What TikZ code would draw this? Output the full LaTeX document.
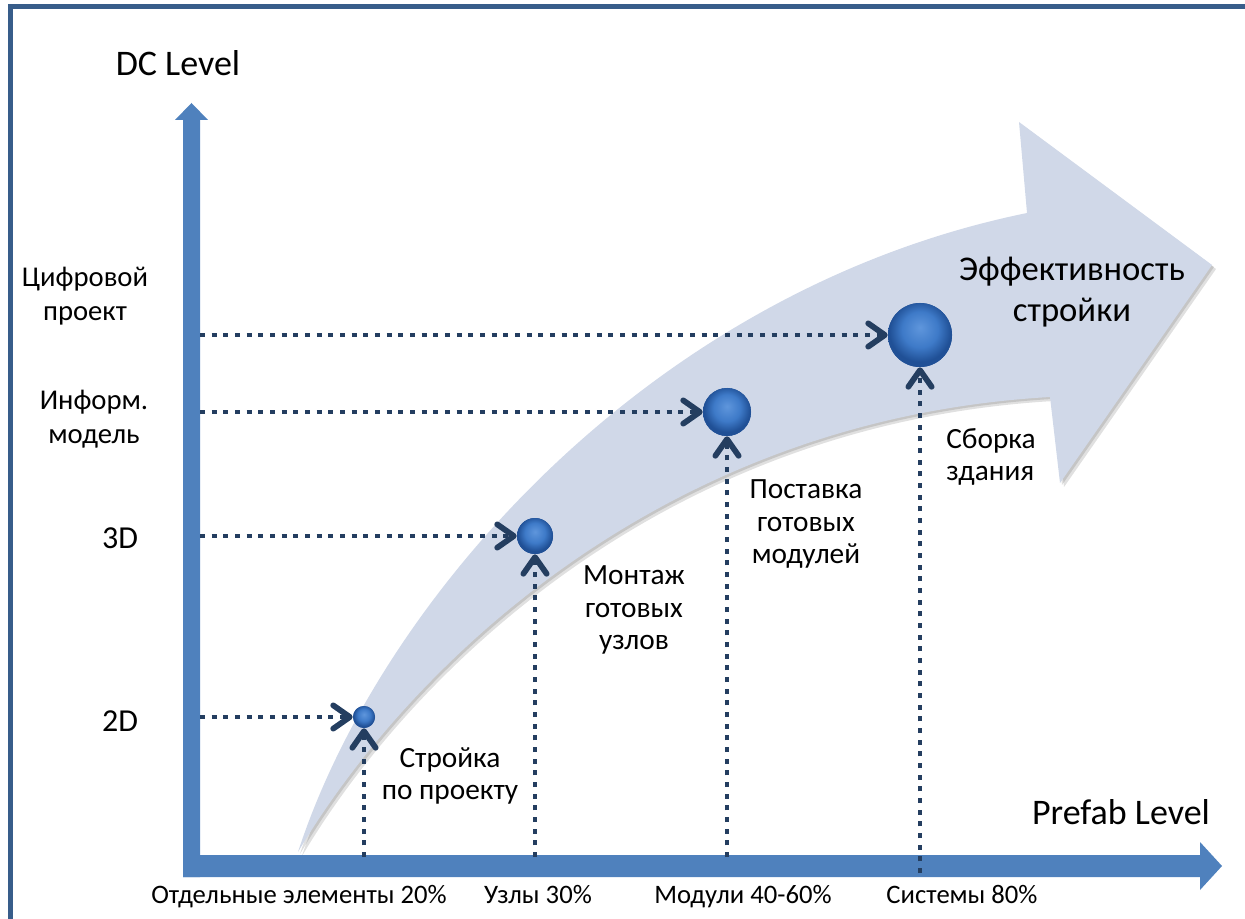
\documentclass[tikz,border=0pt]{standalone}
\usepackage{fontspec}
\setmainfont{Carlito}
\usetikzlibrary{arrows.meta}

\definecolor{axisblue}{RGB}{79,129,189}
\definecolor{frameblue}{RGB}{56,93,138}
\definecolor{bandfill}{RGB}{208,216,232}
\definecolor{dotnavy}{RGB}{36,62,96}
\definecolor{ballhi}{RGB}{95,150,220}
\definecolor{ballin}{RGB}{62,122,200}
\definecolor{ballout}{RGB}{32,80,150}

% glossy blue sphere, brighter towards the top
\pgfdeclareradialshading{sphereblue}{\pgfpoint{0bp}{6bp}}{%
  color(0bp)=(ballhi); color(14bp)=(ballin); color(24bp)=(ballout); color(50bp)=(ballout)}

\tikzset{
  framestyle/.style={draw=frameblue, line width=3.75pt},
  axisbar/.style={fill=axisblue, draw=none},
  conn/.style={draw=dotnavy, line width=3.7pt, dash pattern=on 3.75pt off 5pt,
    -{Straight Barb[length=12.5pt,width=17.5pt,line width=4.3pt,round]}},
  ballnode/.style={circle, inner sep=0pt, draw=none, shading=sphereblue},
  axistitle/.style={font=\fontsize{27}{32}\selectfont, inner sep=0pt},
  levellbl/.style={font=\fontsize{21.5}{25.5}\selectfont, align=center, inner sep=0pt},
  dimlbl/.style={font=\fontsize{24}{28}\selectfont, inner sep=0pt},
  ticklbl/.style={font=\fontsize{20}{24}\selectfont, inner sep=0pt, anchor=base},
  steplbl/.style={font=\fontsize{22}{24.5}\selectfont, align=center, inner sep=0pt},
  biglbl/.style={font=\fontsize{26}{31}\selectfont, align=center, inner sep=0pt},
}

\begin{document}
\begin{tikzpicture}[x=0.75pt, y=-0.75pt]
\useasboundingbox (0,0) rectangle (1245,919);

% outer frame (open to the right and bottom)
\draw[framestyle] (10.5,919) -- (10.5,6.5) -- (1245,6.5);

% curved band with a soft shadow
\begin{scope}[shift={(4,4)}]
\fill[black, opacity=0.12] (298,852) .. controls (380,600) and (650,290) .. (1027,213)
  -- (1019,122) -- (1212,265) -- (1060,483) -- (1050,397)
  .. controls (650,420) and (400,680) .. (298,852) -- cycle;
\end{scope}
\begin{scope}[shift={(2,2)}]
\fill[black, opacity=0.12] (298,852) .. controls (380,600) and (650,290) .. (1027,213)
  -- (1019,122) -- (1212,265) -- (1060,483) -- (1050,397)
  .. controls (650,420) and (400,680) .. (298,852) -- cycle;
\end{scope}
\fill[bandfill] (298,852) .. controls (380,600) and (650,290) .. (1027,213)
  -- (1019,122) -- (1212,265) -- (1060,483) -- (1050,397)
  .. controls (650,420) and (400,680) .. (298,852) -- cycle;

% axes
\fill[axisbar] (183,877) -- (183,120) -- (175,120) -- (191.5,103) -- (208,120)
  -- (200,120) -- (200,877) -- cycle;
\fill[axisbar] (183,877) -- (183,855) -- (1200,855) -- (1200,842) -- (1222,866)
  -- (1200,890) -- (1200,877) -- cycle;

% milestones
\node[ballnode, minimum size=16.5pt] (b2d)  at (364,717) {};
\node[ballnode, minimum size=27pt]   (b3d)  at (535,536) {};
\node[ballnode, minimum size=36pt]   (binf) at (727,412) {};
\node[ballnode, minimum size=48pt]   (bdig) at (920,335) {};

% connector anchors on the axes
\coordinate (h2d)  at (200,717);
\coordinate (h3d)  at (200,536);
\coordinate (hinf) at (200,412);
\coordinate (hdig) at (200,335);
\coordinate (v2d)  at (364,857);
\coordinate (v3d)  at (535,857);
\coordinate (vinf) at (727,857);
\coordinate (vdig) at (920,873);

\draw[conn] (h2d) -- (b2d.west);
\draw[conn] (h3d) -- (b3d.west);
\draw[conn] (hinf) -- (binf.west);
\draw[conn] (hdig) -- (bdig.west);
\draw[conn] (v2d) -- (b2d.south);
\draw[conn] (v3d) -- (b3d.south);
\draw[conn] (vinf) -- (binf.south);
\draw[conn] (vdig) -- (bdig.south);

% redraw milestones above the connectors
\node[ballnode, minimum size=16.5pt] at (b2d) {};
\node[ballnode, minimum size=27pt]   at (b3d) {};
\node[ballnode, minimum size=36pt]   at (binf) {};
\node[ballnode, minimum size=48pt]   at (bdig) {};

% axis titles
\node[axistitle] (ytitle) at (178,63) {DC Level};
\node[axistitle] (xtitle) at (1121,812) {Prefab Level};

% vertical axis levels
\node[levellbl] (ydig) at (85,296) {Цифровой\\проект};
\node[levellbl] (yinf) at (94,419) {Информ.\\модель};
\node[dimlbl] (y3d)  at (120,538) {3D};
\node[dimlbl] (y2d)  at (120,721) {2D};

% horizontal axis levels
\node[ticklbl] (xel)  at (299,903) {Отдельные элементы 20\%};
\node[ticklbl] (xuz)  at (538,903) {Узлы 30\%};
\node[ticklbl] (xmod) at (743,903) {Модули 40-60\%};
\node[ticklbl] (xsys) at (962,903) {Системы 80\%};

% stage descriptions
\node[steplbl] (s1) at (450,776) {Стройка\\по проекту};
\node[steplbl] (s2) at (634,610) {Монтаж\\готовых\\узлов};
\node[steplbl] (s3) at (806,524) {Поставка\\готовых\\модулей};
\node[steplbl, align=left] (s4) at (991,457) {Сборка\\здания};

\node[biglbl] (eff) at (1072,292) {Эффективность\\стройки};
\end{tikzpicture}
\end{document}
